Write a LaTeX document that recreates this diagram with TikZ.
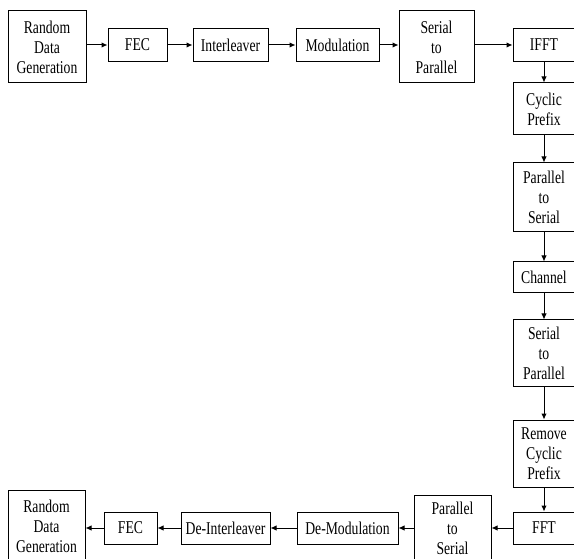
\documentclass[tikz,border=0pt]{standalone}
\usepackage{fontspec}
\newfontfamily\blkfont[FakeStretch=0.76]{Liberation Serif}
\usetikzlibrary{arrows.meta}

\begin{document}
\begin{tikzpicture}[x=1pt,y=-1pt,>={Latex[length=6pt,width=5.5pt]}]
			\clip (0,0) rectangle (574,559);
			\tikzstyle{every node}=[draw,line width=1pt,align=center,inner sep=0pt,minimum height=33pt,font=\blkfont\fontsize{18}{20}\selectfont];
			% transmitter
			\node[minimum width=78pt,minimum height=72pt] (rdg1) at (47,47) {Random\\Data\\Generation};
			\node[minimum width=59pt] (fec1) at (137.5,45) {FEC};
			\node[minimum width=75pt] (intl) at (230.5,45) {Interleaver};
			\node[minimum width=83pt] (mod) at (337.5,45) {Modulation};
			\node[minimum width=75pt,minimum height=72pt] (sp1) at (436.5,47) {Serial\\to\\Parallel};
			\node[minimum width=62pt] (ifft) at (544,45) {IFFT};
			\node[minimum width=62pt,minimum height=52pt] (cp) at (544,109) {Cyclic\\Prefix};
			\node[minimum width=62pt,minimum height=69pt] (ps1) at (544,197.5) {Parallel\\to\\Serial};
			% channel
			\node[minimum width=62pt,minimum height=31pt] (chan) at (544,277.5) {Channel};
			% receiver
			\node[minimum width=62pt,minimum height=67pt] (sp2) at (544,353.5) {Serial\\to\\Parallel};
			\node[minimum width=62pt,minimum height=67pt] (rcp) at (544,453.5) {Remove\\Cyclic\\Prefix};
			\node[minimum width=62pt,minimum height=32pt] (fft) at (544,528) {FFT};
			\node[minimum width=77pt,minimum height=67pt] (ps2) at (452.5,528.5) {Parallel\\to\\Serial};
			\node[minimum width=101pt,minimum height=32pt] (demod) at (347.5,528) {De-Modulation};
			\node[minimum width=89pt,minimum height=32pt] (dintl) at (225.5,528) {De-Interleaver};
			\node[minimum width=53pt,minimum height=32pt] (fec2) at (130.5,528) {FEC};
			\node[minimum width=77pt,minimum height=72pt] (rdg2) at (46.5,526) {Random\\Data\\Generation};
			\draw[->,line width=1pt] (rdg1.east |- fec1) -- (fec1);
			\draw[->,line width=1pt] (fec1) -- (intl);
			\draw[->,line width=1pt] (intl) -- (mod);
			\draw[->,line width=1pt] (mod) -- (mod -| sp1.west);
			\draw[->,line width=1pt] (sp1.east |- ifft) -- (ifft);
			\draw[->,line width=1pt] (ifft) -- (cp);
			\draw[->,line width=1pt] (cp) -- (ps1);
			\draw[->,line width=1pt] (ps1) -- (chan);
			\draw[->,line width=1pt] (chan) -- (sp2);
			\draw[->,line width=1pt] (sp2) -- (rcp);
			\draw[->,line width=1pt] (rcp) -- (fft);
			\draw[->,line width=1pt] (fft) -- (fft -| ps2.east);
			\draw[->,line width=1pt] (ps2.west |- demod) -- (demod);
			\draw[->,line width=1pt] (demod) -- (dintl);
			\draw[->,line width=1pt] (dintl) -- (fec2);
			\draw[->,line width=1pt] (fec2) -- (fec2 -| rdg2.east);
		\end{tikzpicture}
\end{document}
